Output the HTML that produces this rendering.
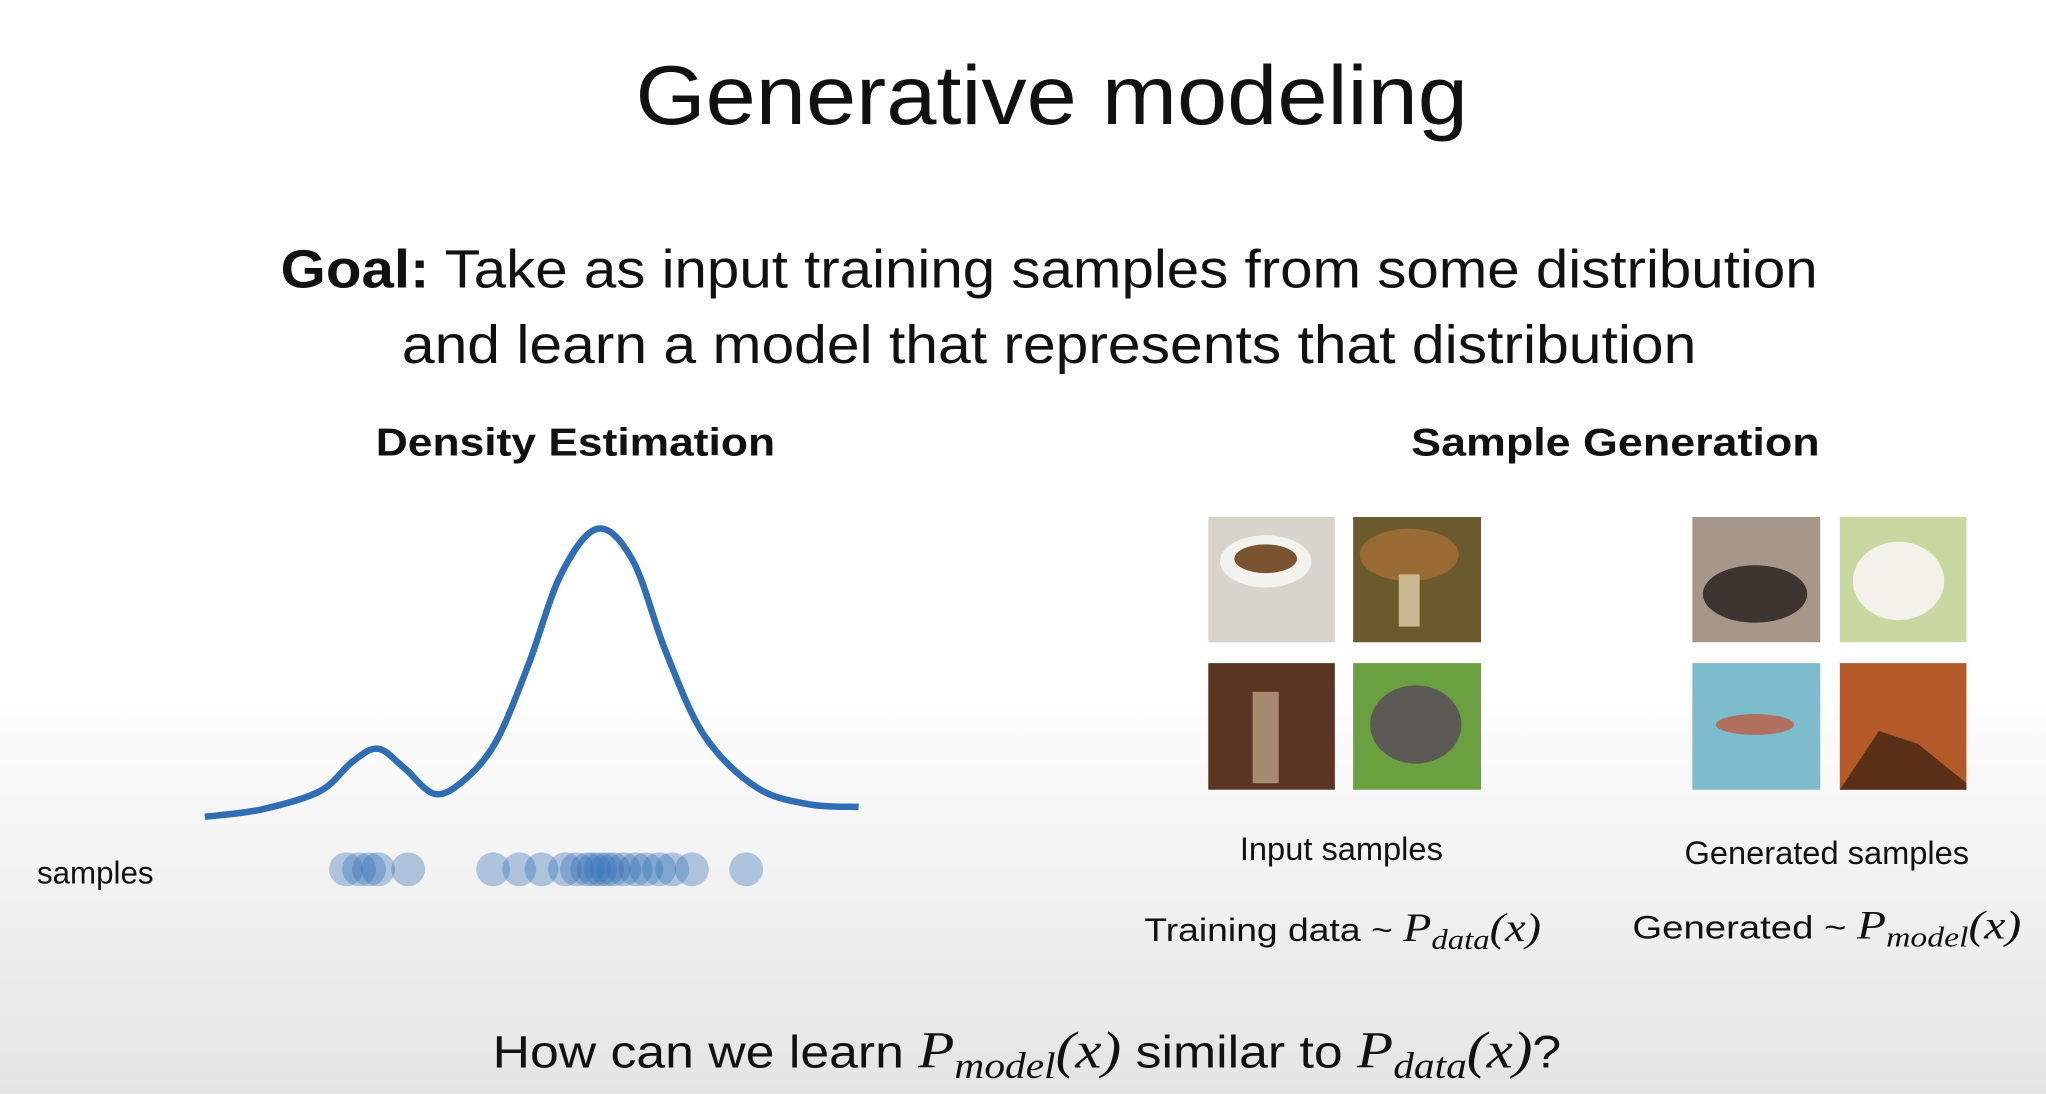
<!DOCTYPE html>
<html><head><meta charset="utf-8"><style>
html,body{margin:0;padding:0;background:#fff;}
svg{display:block;}
text{font-family:"Liberation Sans",sans-serif;fill:#111;}
.m{font-family:"Liberation Serif",serif;font-style:italic;}
</style></head><body>
<svg width="2046" height="1094" viewBox="0 0 1568 838" xmlns="http://www.w3.org/2000/svg">
<defs>
<linearGradient id="bg" x1="0" y1="0" x2="0" y2="1">
<stop offset="0" stop-color="#ffffff"/><stop offset="0.62" stop-color="#ffffff"/><stop offset="1" stop-color="#e4e4e4"/>
</linearGradient>
</defs>
<rect width="1568" height="838" fill="url(#bg)"/>
<text x="806" y="95" font-size="64" text-anchor="middle" textLength="638" lengthAdjust="spacingAndGlyphs">Generative modeling</text>
<text x="804" y="220" font-size="41" text-anchor="middle" textLength="1178" lengthAdjust="spacingAndGlyphs"><tspan font-weight="bold">Goal:</tspan> Take as input training samples from some distribution</text>
<text x="804" y="278" font-size="41" text-anchor="middle" textLength="992" lengthAdjust="spacingAndGlyphs">and learn a model that represents that distribution</text>
<text x="441" y="349" font-size="30" font-weight="bold" text-anchor="middle" textLength="306" lengthAdjust="spacingAndGlyphs">Density Estimation</text>
<text x="1238" y="349" font-size="30" font-weight="bold" text-anchor="middle" textLength="313" lengthAdjust="spacingAndGlyphs">Sample Generation</text>
<text x="73" y="677" font-size="24" text-anchor="middle">samples</text>
<g id="chart"></g>

<g>
<rect x="926" y="396" width="97" height="96" fill="#d8d4cc"/>
<ellipse cx="970" cy="430" rx="35" ry="20" fill="#f4f2ee"/><ellipse cx="970" cy="428" rx="24" ry="11" fill="#7a5330"/>
<rect x="1037" y="396" width="98" height="96" fill="#6a5a2c"/>
<ellipse cx="1080" cy="425" rx="38" ry="20" fill="#9a6a35"/><rect x="1072" y="440" width="16" height="40" fill="#c9b890"/>
<rect x="926" y="508" width="97" height="97" fill="#5a3524"/>
<rect x="960" y="530" width="20" height="70" fill="#a58a70"/>
<rect x="1037" y="508" width="98" height="97" fill="#6aa040"/>
<ellipse cx="1085" cy="555" rx="35" ry="30" fill="#5c5a55"/>
</g>
<g>
<rect x="1297" y="396" width="98" height="96" fill="#a6978a"/>
<ellipse cx="1345" cy="455" rx="40" ry="22" fill="#3e3430"/>
<rect x="1410" y="396" width="97" height="96" fill="#c8d8a0"/>
<ellipse cx="1455" cy="445" rx="35" ry="30" fill="#f2f2ea"/>
<rect x="1297" y="508" width="98" height="97" fill="#7cbccc"/>
<ellipse cx="1345" cy="555" rx="30" ry="8" fill="#b07060"/>
<rect x="1410" y="508" width="97" height="97" fill="#b35a28"/>
<path d="M1410 605 L1440 560 L1470 570 L1507 600 L1507 605Z" fill="#5a3018"/>
</g>
<text x="1028" y="659" font-size="25" text-anchor="middle">Input samples</text>
<text x="1400" y="662" font-size="25" text-anchor="middle">Generated samples</text>
<text x="1029" y="721" font-size="25" text-anchor="middle" textLength="304" lengthAdjust="spacingAndGlyphs">Training data ~ <tspan class="m" font-size="31">P</tspan><tspan class="m" font-size="22" dy="6">data</tspan><tspan class="m" font-size="31" dy="-6">(x)</tspan></text>
<text x="1400" y="719" font-size="25" text-anchor="middle" textLength="298" lengthAdjust="spacingAndGlyphs">Generated ~ <tspan class="m" font-size="31">P</tspan><tspan class="m" font-size="22" dy="6">model</tspan><tspan class="m" font-size="31" dy="-6">(x)</tspan></text>
<text x="787" y="818" font-size="35" text-anchor="middle" textLength="819" lengthAdjust="spacingAndGlyphs">How can we learn <tspan class="m" font-size="40">P</tspan><tspan class="m" font-size="28" dy="8">model</tspan><tspan class="m" font-size="40" dy="-8">(x)</tspan> similar to <tspan class="m" font-size="40">P</tspan><tspan class="m" font-size="28" dy="8">data</tspan><tspan class="m" font-size="40" dy="-8">(x)</tspan>?</text>
</svg>
<script>
const curveX = [0, 8.6, 17.6, 22.6, 26.5, 30.5, 35.1, 39.5, 44.5, 49.5, 54.5, 60.1, 65.5, 70.5, 76.4, 84.4, 92.4, 100];
const curveDensity = [1, 3.5, 9.8, 20, 24.4, 17.8, 8.9, 13.3, 26.7, 53.3, 84.4, 100, 88.9, 57.8, 28.9, 11.1, 5.3, 4.4];
const sampleX = [21.6, 23.6, 25.1, 26.5, 31.1, 44.1, 48.1, 51.5, 55.1, 56.9, 58.5, 59.5, 60.5, 61.5, 62.5, 64.1, 65.9, 67.5, 69.5, 71.5, 74.5, 82.8];
const sx = v => 157 + v / 100 * 501;
const sy = d => 628 - d / 100 * 223;
const NS = 'http://www.w3.org/2000/svg';
const g = document.getElementById('chart');
const pts = curveX.map((x, i) => [sx(x), sy(curveDensity[i])]);
let d = 'M' + pts[0][0] + ' ' + pts[0][1];
for (let i = 0; i < pts.length - 1; i++) {
  const p0 = pts[i - 1] || pts[i], p1 = pts[i], p2 = pts[i + 1], p3 = pts[i + 2] || p2;
  const c1 = [p1[0] + (p2[0] - p0[0]) / 6, p1[1] + (p2[1] - p0[1]) / 6];
  const c2 = [p2[0] - (p3[0] - p1[0]) / 6, p2[1] - (p3[1] - p1[1]) / 6];
  d += ` C${c1[0]} ${c1[1]} ${c2[0]} ${c2[1]} ${p2[0]} ${p2[1]}`;
}
const path = document.createElementNS(NS, 'path');
path.setAttribute('d', d);
path.setAttribute('fill', 'none');
path.setAttribute('stroke', '#2f6db5');
path.setAttribute('stroke-width', '5');


g.appendChild(path);
sampleX.forEach(v => {
  const c = document.createElementNS(NS, 'circle');
  c.setAttribute('cx', sx(v));
  c.setAttribute('cy', 666);
  c.setAttribute('r', 13);
  c.setAttribute('fill', 'rgba(47,109,181,0.35)');
  
  
  g.appendChild(c);
});
</script>
</body></html>
